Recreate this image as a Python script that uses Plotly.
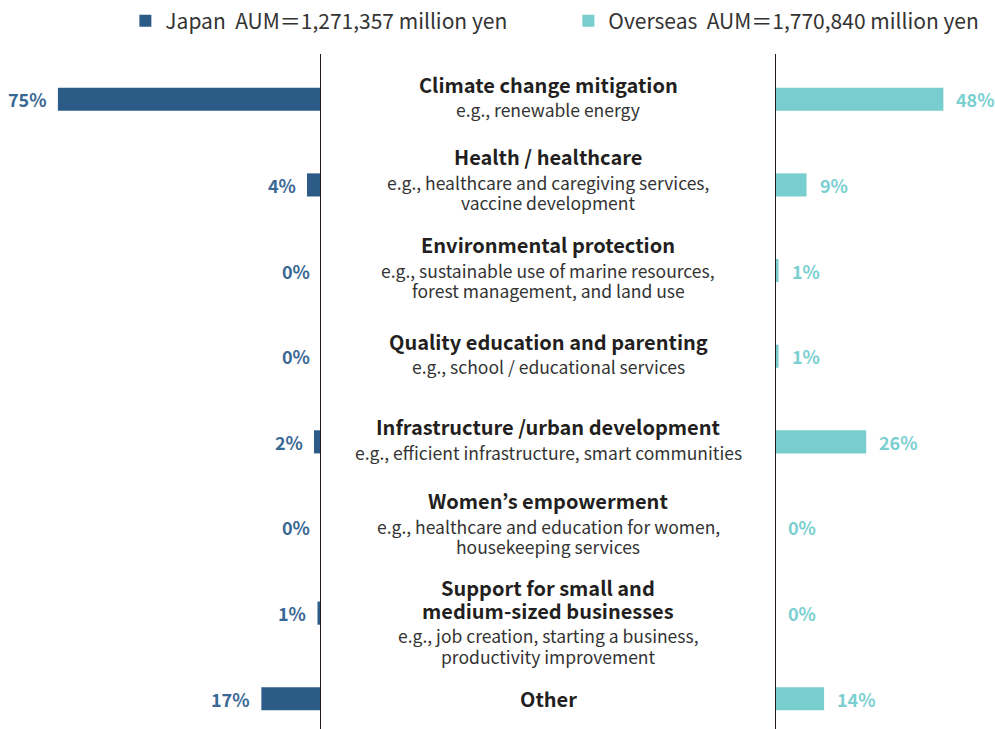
import plotly.graph_objects as go

# ---- data ---------------------------------------------------------------
categories = [
    "Climate change mitigation",
    "Health / healthcare",
    "Environmental protection",
    "Quality education and parenting",
    "Infrastructure /urban development",
    "Women’s empowerment",
    "Support for small and medium-sized businesses",
    "Other",
]
title_lines = [
    ["Climate change mitigation"],
    ["Health / healthcare"],
    ["Environmental protection"],
    ["Quality education and parenting"],
    ["Infrastructure /urban development"],
    ["Women’s empowerment"],
    ["Support for small and", "medium-sized businesses"],
    ["Other"],
]
example_lines = [
    ["e.g., renewable energy"],
    ["e.g., healthcare and caregiving services,", "vaccine development"],
    ["e.g., sustainable use of marine resources,", "forest management, and land use"],
    ["e.g., school / educational services"],
    ["e.g., efficient infrastructure, smart communities"],
    ["e.g., healthcare and education for women,", "housekeeping services"],
    ["e.g., job creation, starting a business,", "productivity improvement"],
    [],
]
japan_pct = [75, 4, 0, 0, 2, 0, 1, 17]
overseas_pct = [48, 9, 1, 1, 26, 0, 0, 14]
japan_aum = "1,271,357"
overseas_aum = "1,770,840"

# ---- styling --------------------------------------------------------------
FONT = "Noto Sans CJK JP"
JAPAN_COLOR = "#2D5B87"
JAPAN_LABEL = "#3A6894"
OVERSEAS_COLOR = "#78CDCF"
OVERSEAS_LABEL = "#7ACFD1"
TEXT_DARK = "#231F20"
TEXT_SUB = "#333333"
AXIS_LINE = "#231815"

W, H = 995, 729
TOP = 54
LEFT_END = 321 / W      # right edge of the Japan panel
RIGHT_START = 775 / W   # left edge of the Overseas panel
PX_PER_PCT = 3.508

TITLE_SIZE = 20
EXAMPLE_SIZE = 17.5

# vertical layout of the centre text (pixels)
TITLE_STEP = 22.5
TITLE_TO_EXAMPLE = 25.5
EXAMPLE_STEP = 20.5
text_nudge = [-2.4, -5.2, -2.9, -2.4, -2.3, -3.9, 9.1, -0.5]

fig = go.Figure()

fig.add_trace(go.Bar(
    y=categories, x=japan_pct, orientation="h",
    xaxis="x", yaxis="y", width=0.27,
    marker=dict(color=JAPAN_COLOR, line=dict(width=0)),
    name=f"Japan\u00a0\u00a0AUM＝{japan_aum} million yen",
    hoverinfo="skip",
))
fig.add_trace(go.Bar(
    y=categories, x=overseas_pct, orientation="h",
    xaxis="x2", yaxis="y", width=0.27,
    marker=dict(color=OVERSEAS_COLOR, line=dict(width=0)),
    name=f"Overseas\u00a0\u00a0AUM＝{overseas_aum} million yen",
    hoverinfo="skip",
))

annotations = []

# value labels
for cat, v in zip(categories, japan_pct):
    annotations.append(dict(
        x=v, y=cat, xref="x", yref="y", text=f"<b>{v}%</b>",
        showarrow=False, xanchor="right", yanchor="middle", xshift=-9,
        font=dict(family=FONT, size=18, color=JAPAN_LABEL),
    ))
for cat, v in zip(categories, overseas_pct):
    annotations.append(dict(
        x=v, y=cat, xref="x2", yref="y", text=f"<b>{v}%</b>",
        showarrow=False, xanchor="left", yanchor="middle", xshift=11,
        font=dict(family=FONT, size=18, color=OVERSEAS_LABEL),
    ))

# centre category titles and examples
mid_x = (LEFT_END + RIGHT_START) / 2
for i, cat in enumerate(categories):
    lines = []
    pos = 0.0
    for j, t in enumerate(title_lines[i]):
        if j > 0:
            pos += TITLE_STEP
        lines.append((pos, t, True))
    for j, t in enumerate(example_lines[i]):
        pos += TITLE_TO_EXAMPLE if j == 0 else EXAMPLE_STEP
        lines.append((pos, t, False))
    centre = (lines[0][0] + lines[-1][0]) / 2
    for p, t, is_title in lines:
        offset = p - centre + text_nudge[i]
        annotations.append(dict(
            x=mid_x, y=cat, xref="paper", yref="y",
            text=f"<b>{t}</b>" if is_title else t,
            showarrow=False, xanchor="center", yanchor="middle",
            yshift=-offset, borderpad=0,
            font=dict(family=FONT, size=TITLE_SIZE if is_title else EXAMPLE_SIZE,
                      color=TEXT_DARK if is_title else TEXT_SUB),
        ))

# vertical baselines of both panels
shapes = [
    dict(type="line", xref="x", yref="paper", x0=0, x1=0, y0=0, y1=1,
         line=dict(color=AXIS_LINE, width=2)),
    dict(type="line", xref="x2", yref="paper", x0=0, x1=0, y0=0, y1=1,
         line=dict(color=AXIS_LINE, width=2)),
]

left_range = LEFT_END * W / PX_PER_PCT
right_range = (1 - RIGHT_START) * W / PX_PER_PCT

fig.update_layout(
    width=W, height=H,
    margin=dict(l=0, r=0, t=TOP, b=0, pad=0, autoexpand=False),
    paper_bgcolor="white", plot_bgcolor="white",
    font=dict(family=FONT, color=TEXT_SUB),
    barmode="overlay",
    showlegend=True,
    legend=dict(
        orientation="h", x=0.126, xanchor="left", y=1 + (TOP - 21) / (H - TOP),
        yanchor="middle", entrywidth=398, entrywidthmode="pixels",
        font=dict(family=FONT, size=21, color=TEXT_SUB),
        itemclick=False, itemdoubleclick=False, bgcolor="rgba(0,0,0,0)",
    ),
    xaxis=dict(domain=[0, LEFT_END], range=[left_range, 0], anchor="y",
               showgrid=False, zeroline=False, showticklabels=False,
               showline=False, ticks="", fixedrange=True),
    xaxis2=dict(domain=[RIGHT_START, 1], range=[0, right_range], anchor="y",
                showgrid=False, zeroline=False, showticklabels=False,
                showline=False, ticks="", fixedrange=True),
    yaxis=dict(type="category", categoryorder="array", categoryarray=categories,
               range=[7.353, -0.529], showgrid=False, zeroline=False,
               showticklabels=False, showline=False, ticks="", fixedrange=True),
    annotations=annotations,
    shapes=shapes,
)

fig.write_html("out.html", config={"displayModeBar": False})
